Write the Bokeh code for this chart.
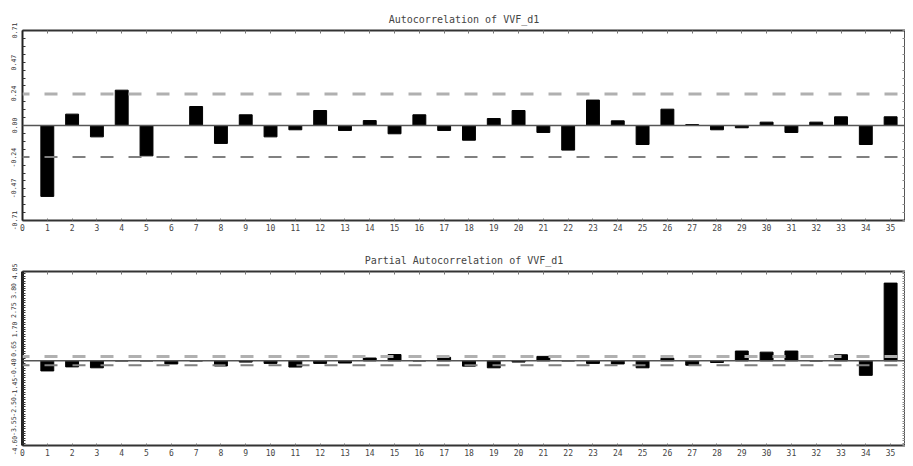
import numpy as np
from bokeh.plotting import figure
from bokeh.layouts import column
from bokeh.models import Range1d, FixedTicker, Span, LinearAxis
from bokeh.embed import file_html
from bokeh.resources import INLINE

lags = list(range(1, 36))
acf_values = [-0.53, 0.085, -0.085, 0.264, -0.227, 0.0, 0.142, -0.134, 0.08, -0.085,
              -0.032, 0.112, -0.037, 0.037, -0.062, 0.08, -0.037, -0.11, 0.052, 0.112,
              -0.052, -0.184, 0.19, 0.035, -0.142, 0.122, 0.007, -0.032, -0.017, 0.025,
              -0.052, 0.025, 0.065, -0.142, 0.065]
pacf_values = [-0.55, -0.33, -0.38, 0.0, 0.0, -0.17, 0.0, -0.28, -0.07, -0.14,
               -0.34, -0.14, -0.12, 0.15, 0.34, 0.0, 0.19, -0.29, -0.38, -0.07,
               0.24, 0.0, -0.14, -0.17, -0.38, 0.14, -0.24, -0.09, 0.53, 0.47,
               0.53, 0.0, 0.33, -0.79, 4.22]
conf_bound = 0.235

acf_ytick_values = [-0.71, -0.47, -0.24, 0.0, 0.24, 0.47, 0.71]
acf_ytick_labels = ["-0.71", "-0.47", "-0.24", "0.00", "0.24", "0.47", "0.71"]
acf_title = "Autocorrelation of VVF_d1"

pacf_ytick_values = [-4.60, -3.55, -2.50, -1.45, -0.40, 0.65, 1.70, 2.75, 3.80, 4.85]
pacf_ytick_labels = ["-4.60", "-3.55", "-2.50", "-1.45", "-0.40", "0.65", "1.70", "2.75", "3.80", "4.85"]
pacf_title = "Partial Autocorrelation of VVF_d1"

x_ticks = list(range(0, 37))

FONT = "DejaVu Sans Mono"


def make_panel(title, values, yticks, ylabels, height, btop, bbot, nminor, left_w, title_standoff):
    ymin, ymax = yticks[0], yticks[-1]
    p = figure(width=905, height=height, output_backend="svg", toolbar_location=None,
               x_range=Range1d(0, 35.6), y_range=Range1d(ymin, ymax),
               min_border_left=22, min_border_right=0, min_border_top=btop,
               min_border_bottom=bbot, x_axis_location=None, y_axis_location=None)
    p.background_fill_color = "white"
    p.border_fill_color = "white"
    p.outline_line_color = "#555555"
    p.outline_line_width = 1
    p.xgrid.visible = False
    p.ygrid.visible = False

    p.title.text = title
    p.title.align = "center"
    p.title.text_font = FONT
    p.title.text_font_size = "10px"
    p.title.text_font_style = "normal"
    p.title.text_color = "#444444"
    p.title.offset = 0
    p.title.standoff = title_standoff

    # zero line
    p.add_layout(Span(location=0, dimension="width", line_color="#555555", line_width=1.5))
    # confidence bounds
    p.add_layout(Span(location=conf_bound, dimension="width", line_color="#b0b0b0",
                      line_width=3, line_dash="13 15", line_dash_offset=6))
    p.add_layout(Span(location=-conf_bound, dimension="width", line_color="#808080",
                      line_width=2, line_dash="13 15", line_dash_offset=6))

    p.vbar(x=lags, top=values, bottom=0, width=0.52, fill_color="black", line_color="black")

    minor = []
    for a, b in zip(yticks[:-1], yticks[1:]):
        minor.extend(list(np.linspace(a, b, nminor + 1)[1:-1]))

    # left axis
    ly = LinearAxis(ticker=FixedTicker(ticks=yticks, minor_ticks=minor))
    ly.major_label_overrides = {v: l for v, l in zip(yticks, ylabels)}
    ly.major_label_orientation = "vertical"
    ly.major_label_text_font = FONT
    ly.major_label_text_font_size = "6.5px"
    ly.major_label_text_color = "#333333"
    ly.major_label_standoff = 6
    ly.major_tick_in = 3
    ly.major_tick_out = 0
    ly.minor_tick_in = 3
    ly.minor_tick_out = 0
    ly.major_tick_line_color = "#333333"
    ly.minor_tick_line_color = "#333333"
    ly.axis_line_color = "#222222"
    ly.axis_line_width = left_w
    p.add_layout(ly, "left")

    # right axis (ticks only, drawn as minor ticks so no labels)
    ry = LinearAxis(ticker=FixedTicker(ticks=[], minor_ticks=list(yticks) + minor))
    ry.minor_tick_in = 3
    ry.minor_tick_out = 0
    ry.minor_tick_line_color = "#888888"
    ry.axis_line_color = "#777777"
    ry.axis_line_width = 1
    p.add_layout(ry, "right")

    # bottom axis
    bx = LinearAxis(ticker=FixedTicker(ticks=x_ticks, minor_ticks=[]))
    bx.major_label_text_font = FONT
    bx.major_label_text_font_size = "8px"
    bx.major_label_text_color = "#444444"
    bx.major_label_standoff = 3
    bx.major_tick_in = 2
    bx.major_tick_out = 0
    bx.major_tick_line_color = "#777777"
    bx.axis_line_color = "#333333"
    bx.axis_line_width = 2
    p.add_layout(bx, "below")

    # top axis (ticks only)
    tx = LinearAxis(ticker=FixedTicker(ticks=[], minor_ticks=x_ticks))
    tx.minor_tick_in = 3
    tx.minor_tick_out = 0
    tx.minor_tick_line_color = "#777777"
    tx.axis_line_color = "#333333"
    tx.axis_line_width = 2
    p.add_layout(tx, "above")
    return p


p1 = make_panel(acf_title, acf_values, acf_ytick_values, acf_ytick_labels,
                236, 30, 16, 4, 2, 12)
p2 = make_panel(pacf_title, pacf_values, pacf_ytick_values, pacf_ytick_labels,
                222, 35, 10, 8, 3, 11)

layout = column(p1, p2, spacing=0)
open("out.html", "w").write(file_html(layout, INLINE))
